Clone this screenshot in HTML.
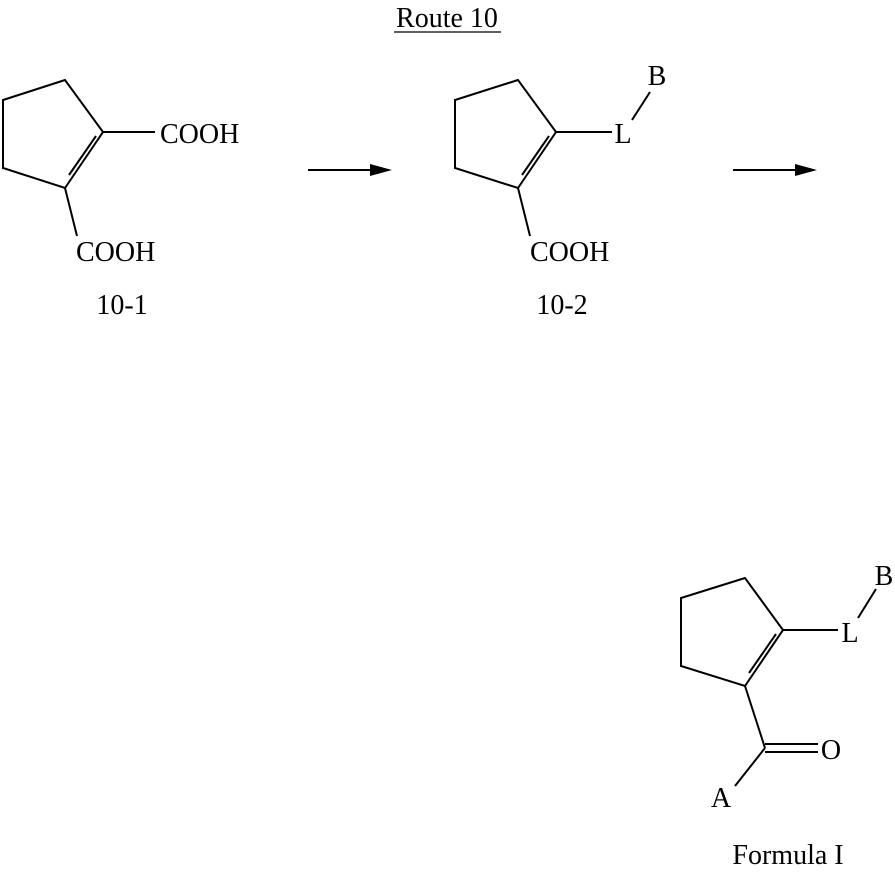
<!DOCTYPE html>
<html><head><meta charset="utf-8"><style>
html,body{margin:0;padding:0;background:#fff;}
svg{display:block;}
text{font-family:"Liberation Serif",serif;font-size:28px;fill:#000;}
</style></head><body>
<svg width="895" height="872" viewBox="0 0 895 872" xmlns="http://www.w3.org/2000/svg">
<g stroke="#000" stroke-width="2" fill="none">
<polygon points="65,80 3,100 3,168 65,188 103,132"/>
<line x1="69" y1="175" x2="96" y2="136"/>
<line x1="103" y1="132" x2="155" y2="132"/>
<line x1="65" y1="188" x2="77" y2="236"/>
<line x1="308" y1="170" x2="375" y2="170"/>
<polygon points="518,80 455,100 455,168 518,188 556,132"/>
<line x1="522" y1="175" x2="549" y2="136"/>
<line x1="556" y1="132" x2="612" y2="132"/>
<line x1="632" y1="120" x2="650" y2="92"/>
<line x1="518" y1="188" x2="530" y2="236"/>
<line x1="733" y1="170" x2="800" y2="170"/>
<polygon points="745,578 681,598 681,666 745,686 783,630"/>
<line x1="749" y1="673" x2="776" y2="634"/>
<line x1="783" y1="630" x2="838" y2="630"/>
<line x1="858" y1="618" x2="876" y2="589"/>
<line x1="745" y1="686" x2="765" y2="748"/>
<line x1="765" y1="744" x2="818" y2="744"/>
<line x1="765" y1="752" x2="818" y2="752"/>
<line x1="765" y1="748" x2="735" y2="786"/>
<line x1="394" y1="32" x2="501" y2="32" stroke-width="1.3"/>
</g>
<polygon points="392,170 370,164 370,176" fill="#000"/>
<polygon points="817,170 795,164 795,176" fill="#000"/>
<text x="447" y="27" text-anchor="middle">Route 10</text>
<text x="160" y="143">COOH</text>
<text x="76" y="261">COOH</text>
<text x="122" y="314" text-anchor="middle">10-1</text>
<text x="623" y="143" text-anchor="middle">L</text>
<text x="657" y="85" text-anchor="middle">B</text>
<text x="530" y="261">COOH</text>
<text x="562" y="314" text-anchor="middle">10-2</text>
<text x="850" y="642" text-anchor="middle">L</text>
<text x="884" y="585" text-anchor="middle">B</text>
<text x="831" y="759" text-anchor="middle">O</text>
<text x="721" y="807" text-anchor="middle">A</text>
<text x="788" y="864" text-anchor="middle">Formula I</text>
</svg>
</body></html>
